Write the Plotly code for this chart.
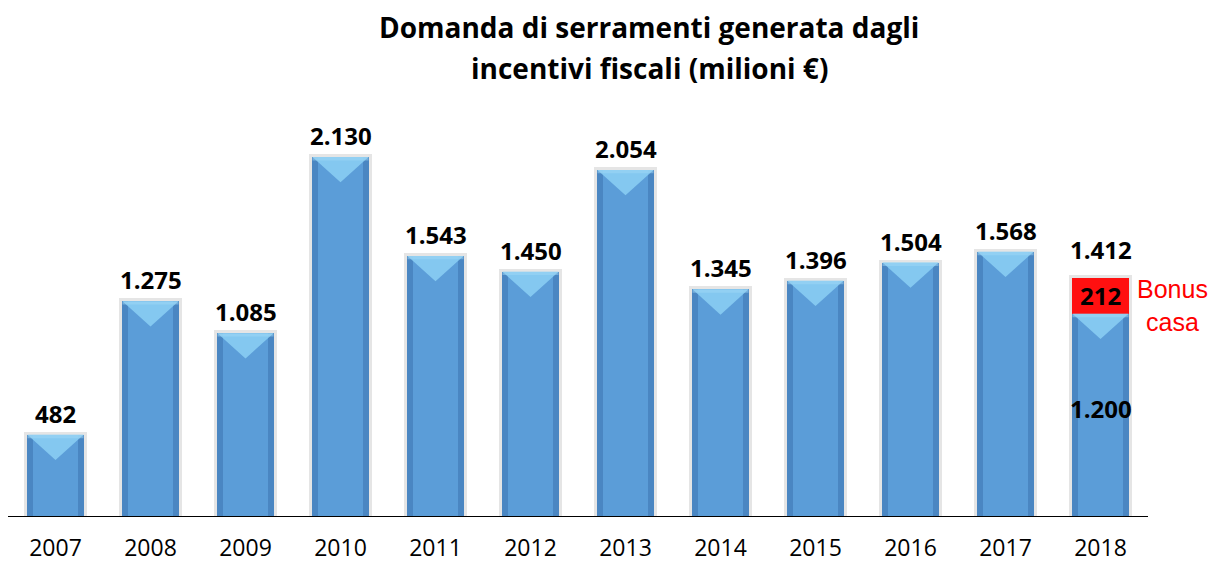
import plotly.graph_objects as go

years = ["2007", "2008", "2009", "2010", "2011", "2012", "2013", "2014", "2015", "2016", "2017", "2018"]
base_values = [482, 1275, 1085, 2130, 1543, 1450, 2054, 1345, 1396, 1504, 1568, 1200]
bonus_values = [0, 0, 0, 0, 0, 0, 0, 0, 0, 0, 0, 212]
label_text = ["482", "1.275", "1.085", "2.130", "1.543", "1.450", "2.054", "1.345", "1.396", "1.504", "1.568", "1.412"]
base_label_2018 = "1.200"
bonus_label_2018 = "212"
bonus_name = "Bonus<br>casa"
title_lines = ["Domanda di serramenti generata dagli", "incentivi fiscali (milioni €)"]

xs = list(range(len(years)))
totals = [b + r for b, r in zip(base_values, bonus_values)]

FONT = "Open Sans"
BAR_W = 0.59
TRI_H = 150  # depth of top highlight in value units

W, H = 1213, 565
ML, MR, MT, MB = 8, 65, 100, 49

fig = go.Figure()

# soft shadow halo
fig.add_trace(go.Bar(x=xs, y=[t + 18 for t in totals], width=BAR_W + 0.08,
                     marker=dict(color="rgba(0,0,0,0.10)", line=dict(width=0)),
                     hoverinfo="skip", showlegend=False))
# darker edges
fig.add_trace(go.Bar(x=xs, y=base_values, width=BAR_W,
                     marker=dict(color="#4A86C2", line=dict(width=0)),
                     hoverinfo="skip", showlegend=False))
# main body
fig.add_trace(go.Bar(x=xs, y=base_values, width=BAR_W * 0.8,
                     marker=dict(color="#5B9DD8", line=dict(width=0)),
                     hoverinfo="skip", showlegend=False))
# red bonus segment
fig.add_trace(go.Bar(x=xs, y=bonus_values, base=base_values, width=BAR_W,
                     marker=dict(color="#FF1010", line=dict(width=0)),
                     hoverinfo="skip", showlegend=False))

shapes = []
for x, v in zip(xs, base_values):
    hw = BAR_W / 2
    path = f"M {x - hw} {v} L {x + hw} {v} L {x} {v - TRI_H} Z"
    shapes.append(dict(type="path", path=path, xref="x", yref="y",
                       fillcolor="rgba(140,208,245,0.85)", line=dict(width=0), layer="above"))
    shapes.append(dict(type="rect", x0=x - hw, x1=x + hw, y0=v - 20, y1=v, xref="x", yref="y",
                       fillcolor="rgba(160,215,245,0.5)", line=dict(width=0), layer="above"))

for x, t, lab in zip(xs, totals, label_text):
    fig.add_annotation(x=x, y=t, text=f"<b>{lab}</b>", showarrow=False, xref="x", yref="y",
                       yanchor="bottom", yshift=3 if t == base_values[x] else 10,
                       font=dict(family=FONT, size=24, color="black"))

i18 = len(years) - 1
fig.add_annotation(x=i18, y=base_values[i18] + bonus_values[i18] / 2, text=f"<b>{bonus_label_2018}</b>",
                   showarrow=False, xref="x", yref="y",
                   font=dict(family=FONT, size=24, color="black"))
fig.add_annotation(x=i18, y=base_values[i18] * 0.53, text=f"<b>{base_label_2018}</b>",
                   showarrow=False, xref="x", yref="y",
                   font=dict(family=FONT, size=24, color="black"))
fig.add_annotation(x=i18 + BAR_W / 2, y=base_values[i18] + bonus_values[i18] / 2, text=bonus_name,
                   showarrow=False, xref="x", yref="y", xanchor="left", xshift=6, yshift=-10,
                   align="center",
                   font=dict(family="Liberation Sans", size=25, color="#FF0000"))

plot_w = W - ML - MR
plot_h = H - MT - MB
for i, line in enumerate(title_lines):
    fig.add_annotation(x=(649 - ML) / plot_w, y=(H - MB - (27 + 41 * i)) / plot_h,
                       xref="paper", yref="paper", text=f"<b>{line}</b>", showarrow=False,
                       xanchor="center", yanchor="middle",
                       font=dict(family=FONT, size=28, color="black"))

fig.update_layout(
    width=W, height=H,
    margin=dict(l=ML, r=MR, t=MT, b=MB),
    paper_bgcolor="white", plot_bgcolor="white",
    barmode="overlay", bargap=0,
    shapes=shapes,
    xaxis=dict(range=[-0.5, 11.5], tickmode="array", tickvals=xs, ticktext=years,
               showgrid=False, zeroline=False, showline=True, linecolor="black", linewidth=1,
               ticks="outside", ticklen=11, tickcolor="rgba(0,0,0,0)", automargin=False,
               tickfont=dict(family=FONT, size=23, color="black"), fixedrange=True),
    yaxis=dict(range=[0, plot_h / 0.1685], visible=False, fixedrange=True),
    showlegend=False,
)

fig.write_html("out.html", config={"displayModeBar": False},
               post_script="document.body.style.margin='0';document.body.style.overflow='hidden';")
